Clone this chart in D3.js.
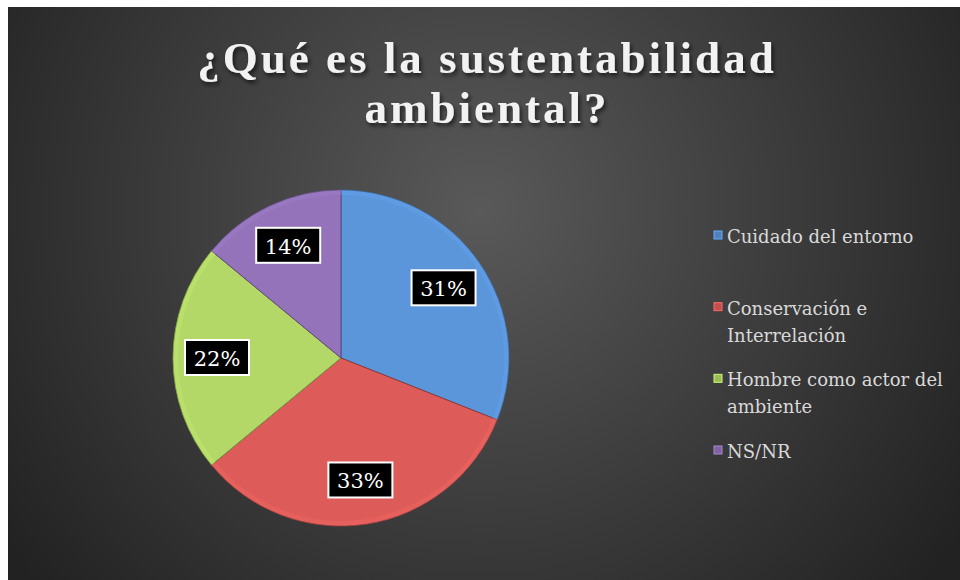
<!DOCTYPE html>
<html>
<head>
<meta charset="utf-8">
<script src="https://cdn.jsdelivr.net/npm/d3@7"></script>
<style>
  html, body { margin: 0; padding: 0; background: #fff; }
  svg { display: block; }
</style>
</head>
<body>
<div id="chart"></div>
<script>
(function(){

    //chart data
    var title = ["¿Qué es la sustentabilidad", "ambiental?"];
    var categories = ["Cuidado del entorno", "Conservación e Interrelación", "Hombre como actor del ambiente", "NS/NR"];
    var values = [31, 33, 22, 14];
    var colors = ["#4f81bd", "#c0504d", "#9bbb59", "#8064a2"];

    var width = 960, height = 580;
    //pie geometry
    var cx = 341, cy = 358, radius = 168, labelRadius = 124;

    var svg = d3.select("#chart").append("svg")
        .attr("width", width)
        .attr("height", height);

    var defs = svg.append("defs");

    //background gradient
    var bg = defs.append("radialGradient")
        .attr("id", "bg")
        .attr("gradientUnits", "userSpaceOnUse")
        .attr("cx", 480).attr("cy", 210).attr("r", 580);
    bg.append("stop").attr("offset", "0%").attr("stop-color", "#595959");
    bg.append("stop").attr("offset", "100%").attr("stop-color", "#222");

    //title shadow
    var sh = defs.append("filter").attr("id", "shadow")
        .attr("x", "-10%").attr("y", "-30%").attr("width", "120%").attr("height", "160%");
    sh.append("feDropShadow")
        .attr("dx", 2).attr("dy", 3).attr("stdDeviation", 2)
        .attr("flood-color", "#000").attr("flood-opacity", 0.6);

    //slice shading: lighter top, darker bottom
    colors.forEach(function(c, i){
        var g = defs.append("linearGradient")
            .attr("id", "slice" + i)
            .attr("gradientUnits", "userSpaceOnUse")
            .attr("x1", 0).attr("y1", cy - radius)
            .attr("x2", 0).attr("y2", cy + radius);
        g.append("stop").attr("offset", "0%").attr("stop-color", d3.color(c).brighter(0.4));
        g.append("stop").attr("offset", "100%").attr("stop-color", d3.color(c).brighter(0.05));
    });

    svg.append("rect")
        .attr("x", 8).attr("y", 7)
        .attr("width", width - 8).attr("height", height - 7)
        .attr("fill", "url(#bg)");

    //title
    var titleText = svg.append("text")
        .attr("text-anchor", "middle")
        .attr("font-family", "'Liberation Serif', serif")
        .attr("font-weight", "bold")
        .attr("font-size", 45)
        .attr("letter-spacing", 3)
        .attr("fill", "#f2f2f2")
        .attr("filter", "url(#shadow)");
    titleText.selectAll("tspan")
        .data(title)
        .enter().append("tspan")
        .attr("x", 487)
        .attr("y", function(d, i){ return 73 + i * 50; })
        .text(function(d){ return d; });

    //pie
    var pie = d3.pie().sort(null).value(function(d){ return d; });
    var arc = d3.arc().innerRadius(0).outerRadius(radius);
    var bevel = d3.arc().innerRadius(radius - 5).outerRadius(radius);
    var labelArc = d3.arc().innerRadius(labelRadius).outerRadius(labelRadius);
    var arcs = pie(values);
    var total = d3.sum(values);

    var g = svg.append("g").attr("transform", "translate(" + cx + "," + cy + ")");

    g.selectAll("path.slice")
        .data(arcs)
        .enter().append("path")
        .attr("class", "slice")
        .attr("d", arc)
        .attr("fill", function(d, i){ return "url(#slice" + i + ")"; })
        .attr("stroke", function(d, i){ return d3.color(colors[i]).darker(0.8); })
        .attr("stroke-width", 1);

    //rim highlight
    g.selectAll("path.rim")
        .data(arcs)
        .enter().append("path")
        .attr("class", "rim")
        .attr("d", bevel)
        .attr("fill", function(d, i){ return d3.color(colors[i]).brighter(0.7); })
        .attr("opacity", 0.35);

    //data labels
    var labels = g.selectAll("g.label")
        .data(arcs)
        .enter().append("g")
        .attr("class", "label")
        .attr("transform", function(d){ return "translate(" + labelArc.centroid(d) + ")"; });

    labels.append("rect")
        .attr("x", -32).attr("y", -18)
        .attr("width", 64).attr("height", 35)
        .attr("fill", "#000")
        .attr("stroke", "#fff")
        .attr("stroke-width", 2);

    labels.append("text")
        .attr("text-anchor", "middle")
        .attr("y", 8)
        .attr("font-family", "'DejaVu Serif', serif")
        .attr("font-size", 21)
        .attr("fill", "#fff")
        .text(function(d){ return Math.round(d.value / total * 100) + "%"; });

    //legend
    var legendX = 714, maxW = 235;
    var legendY = d3.scalePoint()
        .domain(categories)
        .range([243, 458]);

    var legend = svg.selectAll("g.legend")
        .data(categories)
        .enter().append("g")
        .attr("class", "legend")
        .attr("transform", function(d){ return "translate(" + legendX + "," + legendY(d) + ")"; });

    legend.append("rect")
        .attr("x", 0).attr("y", -12)
        .attr("width", 8).attr("height", 8)
        .attr("fill", function(d, i){ return colors[i]; })
        .attr("stroke", function(d, i){ return d3.color(colors[i]).brighter(0.8); })
        .attr("stroke-width", 1);

    legend.append("text")
        .attr("x", 13)
        .attr("font-family", "'DejaVu Serif', serif")
        .attr("font-size", 18)
        .attr("fill", "#d9d9d9")
        .each(function(d){
            //wrap words into lines
            var el = d3.select(this), words = d.split(" "), line = [];
            var tspan = el.append("tspan").attr("x", 13).attr("dy", 0);
            words.forEach(function(w){
                line.push(w);
                tspan.text(line.join(" "));
                if (tspan.node().getComputedTextLength() > maxW && line.length > 1){
                    line.pop();
                    tspan.text(line.join(" "));
                    line = [w];
                    tspan = el.append("tspan").attr("x", 13).attr("dy", 27).text(w);
                }
            });
        });

})()
</script>
</body>
</html>
